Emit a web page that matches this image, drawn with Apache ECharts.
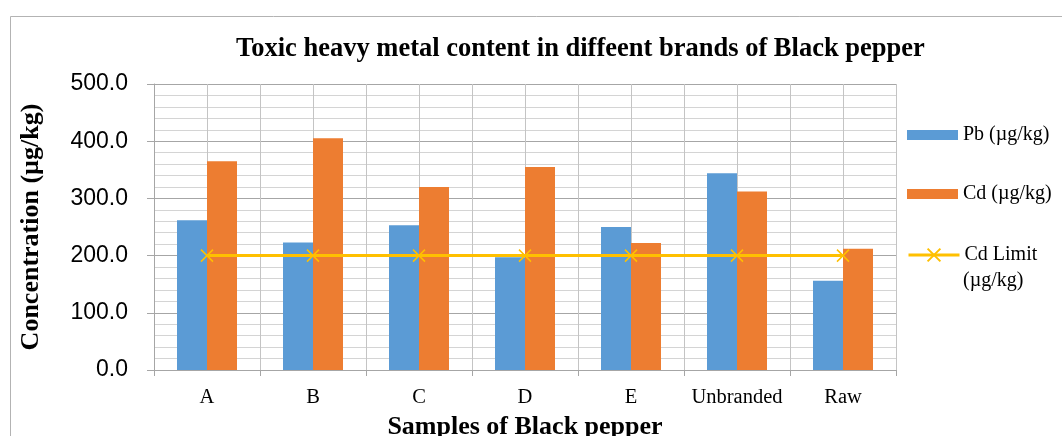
<!DOCTYPE html>
<html>
<head>
<meta charset="utf-8">
<script src="https://cdn.jsdelivr.net/npm/echarts@6/dist/echarts.min.js"></script>
<style>
  html, body { margin: 0; padding: 0; background: #fff; }
  #chart { width: 1062px; height: 436px; }
</style>
</head>
<body>
<div id="chart"></div>
<script>
// Samples and measured concentrations (µg/kg)
const samples = ['A', 'B', 'C', 'D', 'E', 'Unbranded', 'Raw'];
const pbValues = [262, 223, 253, 197, 250, 344, 156];
const cdValues = [365, 405, 320, 355, 222, 312, 212];
const cdLimit = [200, 200, 200, 200, 200, 200, 200];
const yTicks = [0, 100, 200, 300, 400, 500];

const serif = 'Liberation Serif, Times New Roman, serif';
const sans = 'Liberation Sans, Arial, sans-serif';

const chart = echarts.init(document.getElementById('chart'), null, { renderer: 'canvas' });

const option = {
  animation: false,
  backgroundColor: '#ffffff',
  title: {
    text: 'Toxic heavy metal content in diffeent brands of Black pepper',
    left: 236,
    top: 36,
    padding: 0,
    textStyle: { fontFamily: serif, fontWeight: 'bold', fontSize: 26.5, color: '#000' }
  },
  grid: { left: 154, right: 166, top: 84, bottom: 66, containLabel: false, outerBoundsMode: 'none' },
  legend: [
    {
      data: ['Pb (µg/kg)', 'Cd (µg/kg)'],
      orient: 'vertical',
      left: 907,
      top: 123,
      padding: 0,
      itemWidth: 51,
      itemHeight: 10,
      itemGap: 35,
      icon: 'rect',
      textStyle: { fontFamily: serif, fontSize: 20, color: '#000', lineHeight: 24 }
    },
    {
      data: ['Cd Limit (µg/kg)'],
      orient: 'vertical',
      left: 907,
      top: 243,
      padding: 0,
      itemWidth: 51,
      itemHeight: 16,
      lineStyle: { width: 3 },
      formatter: function () { return 'Cd Limit'; },
      textStyle: { fontFamily: serif, fontSize: 20, color: '#000', lineHeight: 24 }
    }
  ],
  graphic: [
    {
      type: 'rect',
      silent: true,
      shape: { x: 10.5, y: 16.5, width: 1200, height: 600 },
      style: { fill: 'none', stroke: '#b3b3b3', lineWidth: 1 },
      z: -10
    },
    {
      type: 'text',
      left: 963,
      top: 271,
      style: { text: '(µg/kg)', font: '20px ' + serif, fill: '#000' }
    }
  ],
  xAxis: [
    {
      type: 'category',
      data: samples,
      boundaryGap: true,
      axisLine: { show: true, lineStyle: { color: '#a6a6a6', width: 1 } },
      axisTick: { show: true, length: 6, alignWithLabel: false, lineStyle: { color: '#a6a6a6' } },
      axisLabel: { interval: 0, fontFamily: serif, fontSize: 20.5, color: '#000', margin: 17 },
      splitLine: { show: false },
      name: 'Samples of Black pepper',
      nameLocation: 'middle',
      nameGap: 44,
      nameTextStyle: { fontFamily: serif, fontWeight: 'bold', fontSize: 26, color: '#000' }
    },
    {
      // half-category vertical grid
      type: 'value',
      min: 0,
      max: 14,
      interval: 1,
      show: true,
      position: 'bottom',
      axisLine: { show: false },
      axisTick: { show: false },
      axisLabel: { show: false },
      splitLine: { show: true, lineStyle: { color: '#c4c4c4', width: 1 } }
    }
  ],
  yAxis: {
    type: 'value',
    min: yTicks[0],
    max: yTicks[yTicks.length - 1],
    interval: 100,
    axisLine: { show: true, lineStyle: { color: '#a6a6a6', width: 1 } },
    axisTick: { show: true, length: 7, lineStyle: { color: '#a6a6a6' } },
    minorTick: { show: false, splitNumber: 5 },
    axisLabel: {
      fontFamily: sans, fontSize: 23, color: '#000', margin: 26,
      formatter: function (v) { return v.toFixed(1); }
    },
    splitLine: { show: true, lineStyle: { color: '#a6a6a6', width: 1 } },
    minorSplitLine: { show: true, lineStyle: { color: '#d4d4d4', width: 1 } },
    name: 'Concentration (µg/kg)',
    nameLocation: 'middle',
    nameGap: 110,
    nameTextStyle: { fontFamily: serif, fontWeight: 'bold', fontSize: 26, color: '#000' }
  },
  series: [
    {
      name: 'Pb (µg/kg)',
      type: 'bar',
      data: pbValues,
      barWidth: 30,
      barGap: '0%',
      itemStyle: { color: '#5b9bd5' }
    },
    {
      name: 'Cd (µg/kg)',
      type: 'bar',
      data: cdValues,
      barWidth: 30,
      barGap: '0%',
      itemStyle: { color: '#ed7d31' }
    },
    {
      name: 'Cd Limit (µg/kg)',
      type: 'line',
      data: cdLimit,
      symbol: 'path://M0,0L10,10M10,0L0,10',
      symbolSize: 12,
      showAllSymbol: true,
      lineStyle: { color: '#ffc000', width: 3 },
      itemStyle: { color: '#ffc000', borderColor: '#ffc000', borderWidth: 1.5 },
      z: 5
    }
  ]
};

chart.setOption(option);
</script>
</body>
</html>
